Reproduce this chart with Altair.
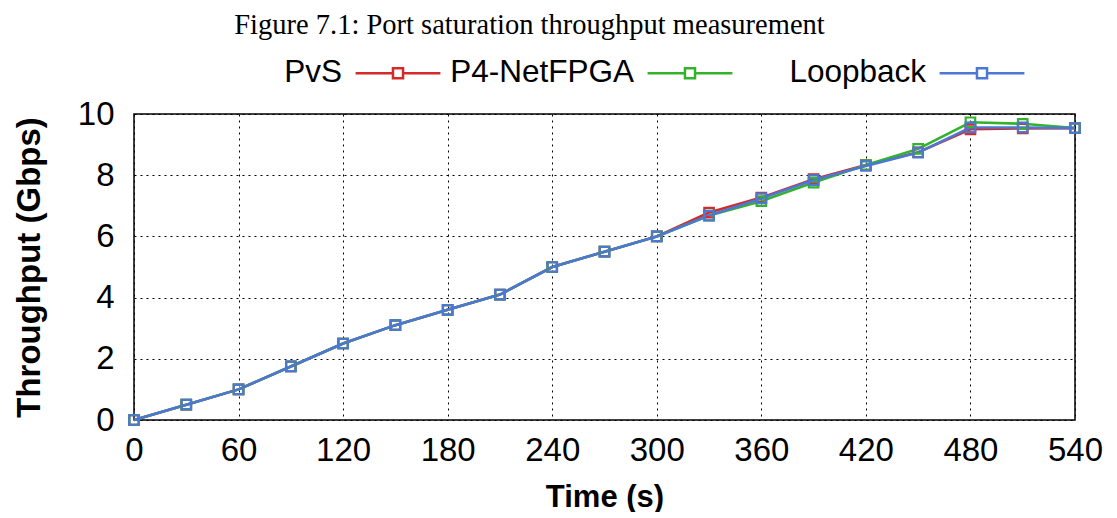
import altair as alt
import pandas as pd

times = [0, 30, 60, 90, 120, 150, 180, 210, 240, 270, 300, 330, 360, 390, 420, 450, 480, 510, 540]
pvs = [0, 0.5, 1.0, 1.75, 2.5, 3.1, 3.6, 4.1, 5.0, 5.5, 6.0, 6.78, 7.27, 7.87, 8.33, 8.75, 9.5, 9.53, 9.54]
netfpga = [0, 0.5, 1.0, 1.75, 2.5, 3.1, 3.6, 4.1, 5.0, 5.5, 6.0, 6.68, 7.15, 7.76, 8.33, 8.86, 9.73, 9.68, 9.54]
loopback = [0, 0.5, 1.0, 1.75, 2.5, 3.1, 3.6, 4.1, 5.0, 5.5, 6.0, 6.68, 7.24, 7.84, 8.3, 8.74, 9.56, 9.56, 9.54]
series = ["PvS", "P4-NetFPGA", "Loopback"]
colors = ["#d42a2a", "#33b22a", "#4a78d4"]

rows = []
for name, vals in zip(series, [pvs, netfpga, loopback]):
    for t, v in zip(times, vals):
        rows.append({"Time": t, "Throughput": v, "Series": name, "order": series.index(name)})
df = pd.DataFrame(rows)

color = alt.Color("Series:N", scale=alt.Scale(domain=series, range=colors),
                  legend=alt.Legend(
                      title=None, orient="none", direction="horizontal",
                      legendX=236, legendY=-69,
                      labelFont="Liberation Sans", labelFontSize=31.5, labelColor="black",
                      labelLimit=400,
                      symbolType="M-1.6,0H-0.19M0.19,0H1.6M-0.19,-0.19H0.19V0.19H-0.19Z",
                      symbolSize=2809, symbolStrokeWidth=2.5, symbolFillColor="transparent",
                      labelAlign="right", labelOffset={"expr": "-84"}, columnPadding=4,
                      gridAlign="all", padding=0))

x = alt.X("Time:Q", scale=alt.Scale(domain=[0, 540], nice=False),
          axis=alt.Axis(values=list(range(0, 541, 60)), title="Time (s)", labelFlush=False))
y = alt.Y("Throughput:Q", scale=alt.Scale(domain=[0, 10], nice=False),
          axis=alt.Axis(values=[0, 2, 4, 6, 8, 10], title="Throughput (Gbps)"))

lines = alt.Chart(df).mark_line(strokeWidth=2.6).encode(
    x=x, y=y, color=color, order="order:Q", detail="Series:N")
points = alt.Chart(df).mark_point(shape="square", filled=False, size=90, strokeWidth=2.2, opacity=1).encode(
    x=x, y=y, color=alt.Color("Series:N", scale=alt.Scale(domain=series, range=colors), legend=None))

chart = alt.layer(lines, points).properties(
    width=941, height=306,
    padding={"top": 2, "left": 5, "right": 5, "bottom": 0},
    title=alt.TitleParams("Figure 7.1: Port saturation throughput measurement",
                          font="Liberation Serif", fontSize=28.5, fontWeight="normal",
                          color="black", anchor="middle", offset=6, dx=-75)
).configure_view(stroke="black", strokeWidth=1.5).configure_axis(
    labelFont="Liberation Sans", labelFontSize=33, labelColor="black",
    titleFont="Liberation Sans", titleFontWeight="bold", titleColor="black",
    grid=True, gridColor="black", gridDash=[2, 4], gridWidth=1, gridOpacity=1,
    domain=False, ticks=False
).configure_axisY(titlePadding=31, labelPadding=20, titleFontSize=33
).configure_axisX(titlePadding=15, labelPadding=14, titleFontSize=31)

chart.save("out.html", embed_options={"renderer": "svg", "actions": False})
